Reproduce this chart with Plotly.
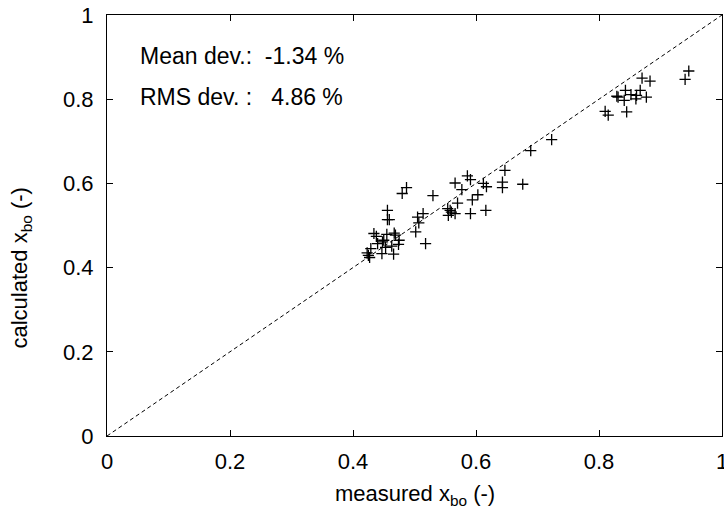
import plotly.graph_objects as go

measured = [0.647, 0.586, 0.591, 0.566, 0.612, 0.617, 0.643, 0.643, 0.676,
            0.487, 0.480, 0.577, 0.603, 0.594, 0.530, 0.570, 0.554, 0.558,
            0.560, 0.566, 0.555, 0.591, 0.616, 0.456, 0.456, 0.459, 0.514,
            0.505, 0.507, 0.502, 0.518, 0.434, 0.438, 0.455, 0.467, 0.469,
            0.450, 0.448, 0.475, 0.474, 0.440, 0.429, 0.453, 0.463, 0.447,
            0.466, 0.425, 0.427, 0.423, 0.689, 0.723,
            0.946, 0.940, 0.870, 0.883, 0.843, 0.867, 0.829, 0.831, 0.852,
            0.861, 0.841, 0.860, 0.877, 0.845, 0.810, 0.815]
calculated = [0.631, 0.618, 0.609, 0.601, 0.600, 0.592, 0.603, 0.590, 0.598,
              0.590, 0.576, 0.585, 0.573, 0.561, 0.571, 0.553, 0.540, 0.536,
              0.532, 0.528, 0.524, 0.528, 0.536, 0.536, 0.514, 0.514, 0.528,
              0.520, 0.506, 0.485, 0.457, 0.481, 0.474, 0.479, 0.482, 0.477,
              0.465, 0.461, 0.465, 0.455, 0.457, 0.445, 0.448, 0.451, 0.433,
              0.432, 0.429, 0.424, 0.435, 0.678, 0.704,
              0.867, 0.847, 0.850, 0.843, 0.821, 0.821, 0.807, 0.805, 0.811,
              0.809, 0.797, 0.801, 0.805, 0.770, 0.771, 0.762]
diag = [0, 1]
tick_vals = [0, 0.2, 0.4, 0.6, 0.8, 1]
tick_text = ["0", "0.2", "0.4", "0.6", "0.8", "1"]

FONT = "Liberation Sans, Arial, Helvetica, sans-serif"

fig = go.Figure()
fig.add_trace(go.Scatter(x=diag, y=diag, mode="lines",
                         line=dict(color="black", width=1, dash="4px,3px"),
                         hoverinfo="skip", showlegend=False))
fig.add_trace(go.Scatter(x=measured, y=calculated, mode="markers",
                         marker=dict(symbol="cross-thin", size=8, color="black",
                                     line=dict(color="black", width=1.3)),
                         showlegend=False))

axis_common = dict(range=[0, 1], tickvals=tick_vals, ticktext=tick_text,
                   ticks="inside", ticklen=6, tickwidth=1, tickcolor="black",
                   showline=True, linecolor="black", linewidth=1.2, mirror="ticks",
                   showgrid=False, zeroline=False, ticklabeloverflow="allow",
                   automargin=False,
                   tickfont=dict(family=FONT, size=22, color="black"))

fig.update_layout(
    width=724, height=522,
    margin=dict(l=107, r=2, t=15, b=86, autoexpand=False),
    paper_bgcolor="white", plot_bgcolor="white",
    xaxis=dict(**axis_common, ticklabelstandoff=5),
    yaxis=dict(**axis_common, ticklabelstandoff=8),
    font=dict(family=FONT, color="black"),
    annotations=[
        dict(text="Mean dev.:\u00a0\u00a0-1.34 %", xref="paper", yref="paper",
             x=0.050, y=0.902, xanchor="left", yanchor="middle", showarrow=False,
             font=dict(family=FONT, size=23, color="black")),
        dict(text="RMS dev. :\u00a0\u00a0\u00a04.86 %", xref="paper", yref="paper",
             x=0.050, y=0.805, xanchor="left", yanchor="middle", showarrow=False,
             font=dict(family=FONT, size=23, color="black")),
        dict(text="measured x<sub>bo</sub> (-)", xref="paper", yref="paper",
             x=0.5, y=-0.14, xanchor="center", yanchor="middle", showarrow=False,
             font=dict(family=FONT, size=22, color="black")),
        dict(text="calculated x<sub>bo</sub> (-)", xref="paper", yref="paper",
             x=-0.14, y=0.40, xanchor="center", yanchor="middle", showarrow=False,
             textangle=-90,
             font=dict(family=FONT, size=22, color="black")),
    ],
)

fig.write_html("out.html")
